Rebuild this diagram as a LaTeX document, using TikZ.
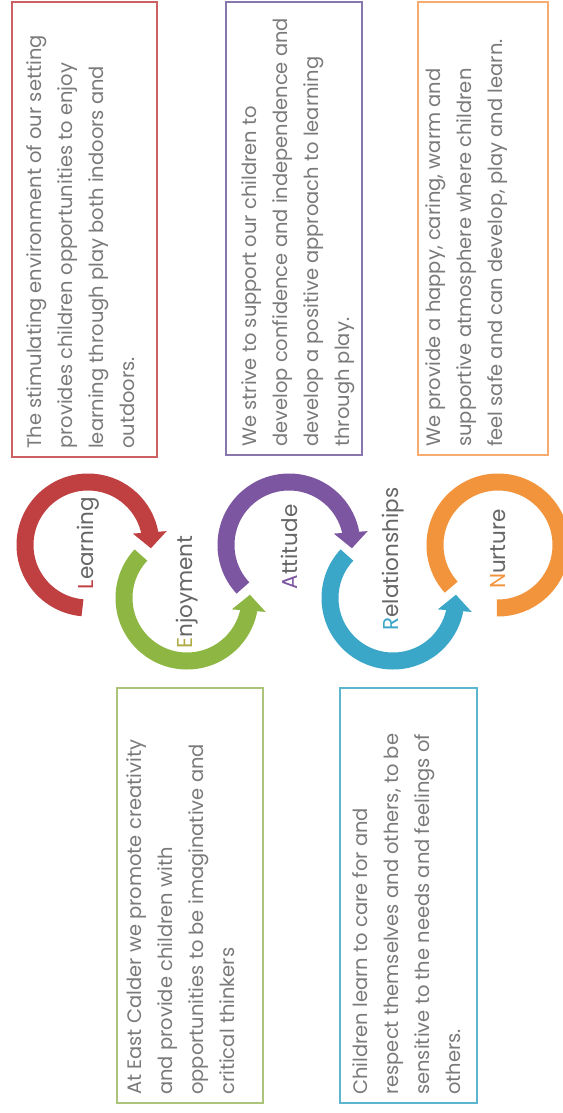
\documentclass[tikz,border=0pt]{standalone}
\usepackage{fontspec}
\usetikzlibrary{arrows.meta,bending}
\newfontfamily\boxfont{Poppins}
\definecolor{learnred}{RGB}{192,64,66}
\definecolor{enjgreen}{RGB}{142,182,66}
\definecolor{attpurple}{RGB}{124,86,160}
\definecolor{relblue}{RGB}{58,166,200}
\definecolor{nurtorange}{RGB}{242,148,60}
\definecolor{learnedge}{RGB}{205,96,98}
\definecolor{enjedge}{RGB}{172,196,122}
\definecolor{attedge}{RGB}{136,118,172}
\definecolor{reledge}{RGB}{92,182,206}
\definecolor{nurtedge}{RGB}{246,172,112}
\definecolor{enjletter}{RGB}{176,172,70}

\begin{document}
\begin{tikzpicture}[x=1pt,y=-1pt,
                    ring/.style={line width=17pt},
                    ringarrow/.style={ring,-{Triangle[width=33pt,length=16pt]}},
                    textbox/.style={draw,line width=2pt,rotate=90},
                    boxtext/.style={rotate=90,anchor=north west,align=left,
                      inner xsep=9pt,text=black!52,
                      font=\boxfont\fontsize{19.5}{31}\selectfont},
                    lab/.style={rotate=90,text=black!60,
                      font=\boxfont\fontsize{21.5}{24}\selectfont}]

  \fill[white] (0,0) rectangle (562,1113);
  \useasboundingbox (0,0) rectangle (562,1113);

  \coordinate (lc) at (88,545);
  \coordinate (ec) at (187,598);
  \coordinate (ac) at (289,545);
  \coordinate (rc) at (393,598);
  \coordinate (nc) at (498,545);

  \node[textbox, draw=learnedge, minimum width=455pt, minimum height=145pt] (learnbox) at (84.5,229.5) {};
  \node[textbox, draw=attedge,   minimum width=453pt, minimum height=136pt] (attbox)   at (294,228.5) {};
  \node[textbox, draw=nurtedge,  minimum width=453pt, minimum height=130pt] (nurtbox)  at (483,228.5) {};
  \node[textbox, draw=enjedge,   minimum width=415pt, minimum height=146pt] (enjbox)   at (190,895.5) {};
  \node[textbox, draw=reledge,   minimum width=415pt, minimum height=137pt] (relbox)   at (408.5,895.5) {};

  \node[boxtext, inner ysep=15pt] (learntext) at (learnbox.north west)
    {The stimulating environment of our setting\\provides children opportunities to enjoy\\learning through play both indoors and\\outdoors.};
  \node[boxtext, inner ysep=16pt] (atttext) at (attbox.north west)
    {We strive to support our children to\\develop confidence and independence and\\develop a positive approach to learning\\through play.};
  \node[boxtext, inner ysep=8pt] (nurttext) at (nurtbox.north west)
    {We provide a happy, caring, warm and\\supportive atmosphere where children\\feel safe and can develop, play and learn.};
  \node[boxtext, inner ysep=10pt] (enjtext) at (enjbox.north west)
    {At East Calder we promote creativity\\and provide children with\\opportunities to be imaginative and\\critical thinkers};
  \node[boxtext, inner ysep=13pt] (reltext) at (relbox.north west)
    {Children learn to care for and\\respect themselves and others, to be\\sensitive to the needs and feelings of\\others.};

  \draw[ringarrow, learnred]  ([shift={(95:63)}]lc)  arc[start angle=95,  end angle=363, radius=63];
  \draw[ringarrow, enjgreen]  ([shift={(223:63)}]ec) arc[start angle=223, end angle=-3,  radius=63];
  \draw[ringarrow, attpurple] ([shift={(137:63)}]ac) arc[start angle=137, end angle=363, radius=63];
  \draw[ringarrow, relblue]   ([shift={(223:63)}]rc) arc[start angle=223, end angle=-3,  radius=63];
  \draw[ring, nurtorange]     ([shift={(138:63)}]nc) arc[start angle=138, end angle=451, radius=63];

  \node[yshift=2pt,  lab] (learnlab) at (lc) {\textcolor{learnred}{L}earning};
  \node[yshift=6pt,  lab] (enjlab)   at (ec) {\textcolor{enjletter}{E}njoyment};
  \node[yshift=-2pt, lab] (attlab)   at (ac) {\textcolor{attpurple}{A}ttitude};
  \node[yshift=39pt, lab] (rellab)   at (rc) {\textcolor{relblue}{R}elationships};
  \node[yshift=-4pt, lab] (nurtlab)  at (nc) {\textcolor{nurtorange}{N}urture};
\end{tikzpicture}
\end{document}
